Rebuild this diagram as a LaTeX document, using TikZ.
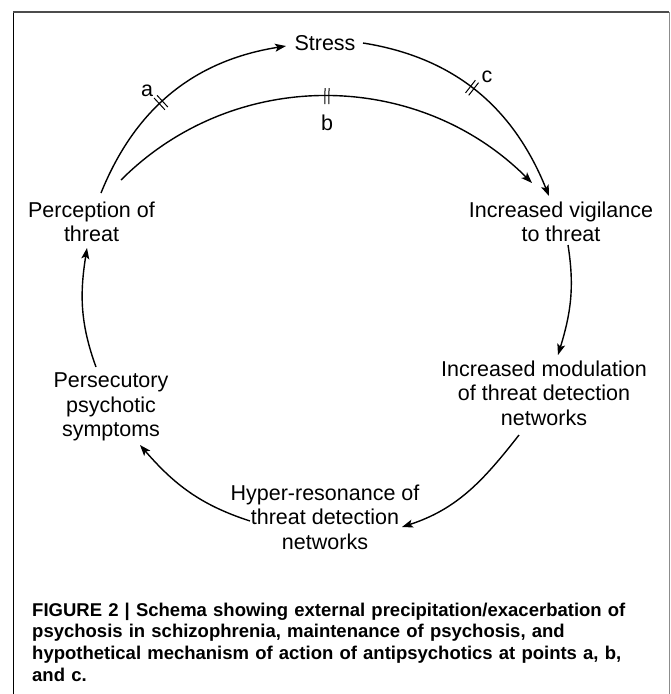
\documentclass[tikz,border=0pt]{standalone}
\usepackage{fontspec}
\setmainfont{Liberation Sans}
\usetikzlibrary{arrows.meta,decorations.markings}
\begin{document}
\begin{tikzpicture}[x=1pt,y=1pt,
  lbl/.style={inner sep=0pt, align=center, font=\fontsize{21.5}{24.5}\selectfont},
  letter/.style={inner sep=0pt, font=\fontsize{21.5}{24.5}\selectfont},
  conn/.style={line width=1.4pt, -{Stealth[length=11pt,width=8pt,inset=2.5pt]}},
  dbltick/.style={postaction={decorate, decoration={markings, mark=at position #1 with {\draw[line width=1pt,-] (-2pt,-8pt)--(-2pt,8pt) (2pt,-8pt)--(2pt,8pt);}}}}
]
\useasboundingbox (0,0) rectangle (670,-694);
% frame
\draw[line width=1.4pt] (13.5,-694) -- (13.5,-12);
\draw[black!70, line width=1.2pt] (13,-12) -- (669,-12);
\draw[black!45, line width=1pt] (669,-12) -- (669,-694);

% nodes
\node[lbl] (stress) at (325,-43) {Stress};
\node[lbl] (perc) at (91.5,-222) {Perception of\\threat};
\node[lbl] (vig) at (561,-222) {Increased vigilance\\to threat};
\node[lbl] (mod) at (544,-393) {Increased modulation\\of threat detection\\networks};
\node[lbl] (hyper) at (325,-517) {Hyper-resonance of\\threat detection\\networks};
\node[lbl] (pers) at (111,-407) {Persecutory\\psychotic\\symptoms};
\node[letter] (la) at (147,-91) {a};
\node[letter] (lb) at (327,-123) {b};
\node[letter] (lc) at (487,-77) {c};

% connectors
\draw[conn, dbltick=0.44] ([shift={(9.5,29)}]perc.center) to[out=68,in=189] ([shift={(-39,-3)}]stress.center);
\draw[conn, dbltick=0.47] ([shift={(38,0)}]stress.center) to[out=-9,in=112] ([shift={(-12,26)}]vig.center);
\draw[conn, dbltick=0.5] ([shift={(29.5,42)}]perc.center) to[out=45,in=135] ([shift={(-29,39)}]vig.center);
\draw[conn] ([shift={(7,-23)}]vig.center) to[out=-81,in=73] ([shift={(14,38)}]mod.center);
\draw[conn] ([shift={(-25,-42)}]mod.center) to[out=-128,in=18] ([shift={(77,-10)}]hyper.center);
\draw[conn] ([shift={(-75,-4)}]hyper.center) to[out=162,in=-49] ([shift={(29,-38)}]pers.center);
\draw[conn] ([shift={(-15,40)}]pers.center) to[out=110,in=-99] ([shift={(-4.5,-26)}]perc.center);

% caption
\node[anchor=base west, inner sep=0pt, text width=630pt, align=left,
      font=\bfseries\fontsize{18.5}{21.8}\selectfont] (cap) at (32,-616)
  {FIGURE 2 | Schema showing external precipitation/exacerbation of\\
   psychosis in schizophrenia, maintenance of psychosis, and\\
   hypothetical mechanism of action of antipsychotics at points a, b,\\
   and c.};
\end{tikzpicture}
\end{document}
